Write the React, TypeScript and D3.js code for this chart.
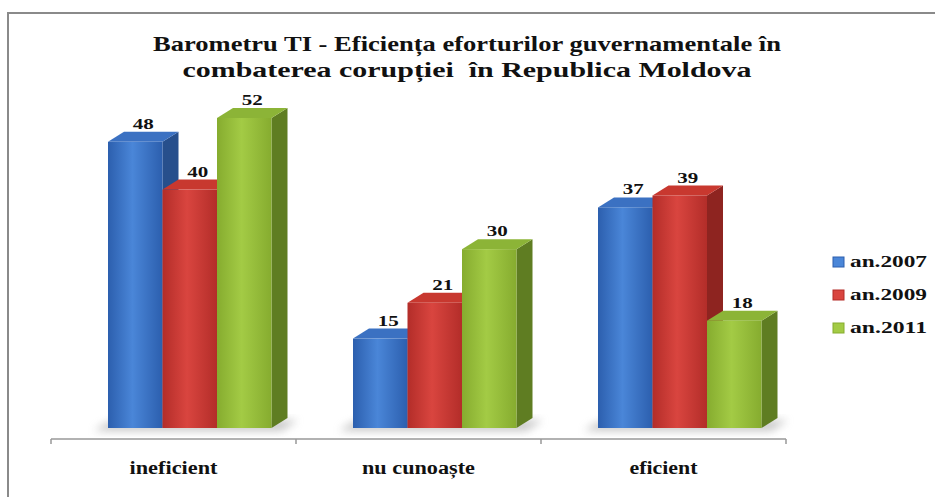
import React from "react";
import * as d3 from "d3";

const categories = ["ineficient", "nu cunoaște", "eficient"];
const seriesNames = ["an.2007", "an.2009", "an.2011"];
const values2007 = [48, 15, 37];
const values2009 = [40, 21, 39];
const values2011 = [52, 30, 18];
const titleLines = [
  "Barometru TI - Eficiența eforturilor guvernamentale în",
  "combaterea corupției  în Republica Moldova",
];

const seriesValues = [values2007, values2009, values2011];
const palette = [
  { front0: "#2c5fae", front1: "#4a86d8", side: "#274f8c", top: "#3b71c2" },
  { front0: "#b32d29", front1: "#d9453f", side: "#8e2420", top: "#c8382f" },
  { front0: "#86ac2f", front1: "#a3cb45", side: "#5f7d22", top: "#8cb437" },
];
const catLabelLen = [88, 113, 68];

export default function App() {
  const W = 935, H = 497;
  const baseY = 428;
  const dx = 16, dy = -10;
  const x0 = d3.scaleBand<string>().domain(categories).range([51, 786]).paddingInner(0).paddingOuter(0);
  const x1 = d3.scaleBand<string>().domain(seriesNames).range([57, 57 + 163.5]).padding(0);
  const y = d3.scaleLinear().domain([0, 52]).range([baseY, 118]);
  const bw = x1.bandwidth();
  const font = "Liberation Serif";
  const ticks = [...categories.map((c) => x0(c)!), 786];
  const txt = { fontFamily: font, fontWeight: 700 as const, whiteSpace: "pre" as const };

  return (
    <div style={{ position: "fixed", left: 0, top: 0, width: W, height: H, background: "#fff" }}>
      <svg width={W} height={H} style={{ display: "block" }}>
        <defs>
          {palette.map((p, i) => (
            <linearGradient key={i} id={`front${i}`} x1="0" x2="1" y1="0" y2="0">
              <stop offset="0%" stopColor={p.front0} />
              <stop offset="45%" stopColor={p.front1} />
              <stop offset="100%" stopColor={p.front0} />
            </linearGradient>
          ))}
          <filter id="blur" x="-50%" y="-50%" width="200%" height="200%">
            <feGaussianBlur stdDeviation="4" />
          </filter>
        </defs>
        <rect x={0} y={0} width={W} height={H} fill="#fff" />
        <rect x={8} y={13} width={W} height={H} fill="#fff" stroke="#8a8a8a" strokeWidth={2} />

        {titleLines.map((t, i) => (
          <text
            key={i}
            x={467}
            y={i === 0 ? 51 : 77}
            textAnchor="middle"
            style={txt}
            fontSize={21}
            fill="#111"
            textLength={i === 0 ? 628 : 569}
            lengthAdjust="spacingAndGlyphs"
          >
            {t}
          </text>
        ))}

        {/* shadows */}
        {categories.map((c) => {
          const left = x0(c)! + x1(seriesNames[0])!;
          const right = x0(c)! + x1(seriesNames[2])! + bw + dx;
          return (
            <polygon
              key={c}
              points={`${left - 14},${baseY + 3} ${left},${baseY - 6} ${right + 10},${baseY - 8} ${right - 6},${baseY + 3}`}
              fill="#9a9a9a"
              opacity={0.55}
              filter="url(#blur)"
            />
          );
        })}

        {/* axis */}
        <line x1={51} x2={786} y1={439} y2={439} stroke="#999" strokeWidth={1.5} />
        {ticks.map((t, i) => (
          <line key={i} x1={t} x2={t} y1={439} y2={444} stroke="#999" strokeWidth={1.5} />
        ))}

        {/* bars */}
        {categories.map((c, ci) =>
          seriesNames.map((s, si) => {
            const v = seriesValues[si][ci];
            const xl = x0(c)! + x1(s)!;
            const xr = xl + bw;
            const yt = y(v);
            const p = palette[si];
            return (
              <g key={c + s}>
                <polygon
                  points={`${xr},${yt} ${xr + dx},${yt + dy} ${xr + dx},${baseY + dy} ${xr},${baseY}`}
                  fill={p.side}
                />
                <polygon
                  points={`${xl},${yt} ${xl + dx},${yt + dy} ${xr + dx},${yt + dy} ${xr},${yt}`}
                  fill={p.top}
                />
                <rect x={xl} y={yt} width={bw} height={baseY - yt} fill={`url(#front${si})`} />
                <text
                  x={xl + bw / 2 + dx / 2}
                  y={yt + dy - 3}
                  textAnchor="middle"
                  style={txt}
                  fontSize={15}
                  fill="#111"
                  textLength={21}
                  lengthAdjust="spacingAndGlyphs"
                >
                  {v}
                </text>
              </g>
            );
          })
        )}

        {/* category labels */}
        {categories.map((c, i) => (
          <text
            key={c}
            x={x0(c)! + x0.bandwidth() / 2}
            y={474}
            textAnchor="middle"
            style={txt}
            fontSize={18}
            fill="#111"
            textLength={catLabelLen[i]}
            lengthAdjust="spacingAndGlyphs"
          >
            {c}
          </text>
        ))}

        {/* legend */}
        {seriesNames.map((s, i) => {
          const cy = 262 + i * 33;
          return (
            <g key={s}>
              <rect x={833} y={cy - 5} width={11} height={10} fill={palette[i].front1} stroke={palette[i].front0} strokeWidth={1} />
              <text
                x={850}
                y={cy + 5}
                style={txt}
                fontSize={16}
                fill="#111"
                textLength={77}
                lengthAdjust="spacingAndGlyphs"
              >
                {s}
              </text>
            </g>
          );
        })}
      </svg>
    </div>
  );
}
